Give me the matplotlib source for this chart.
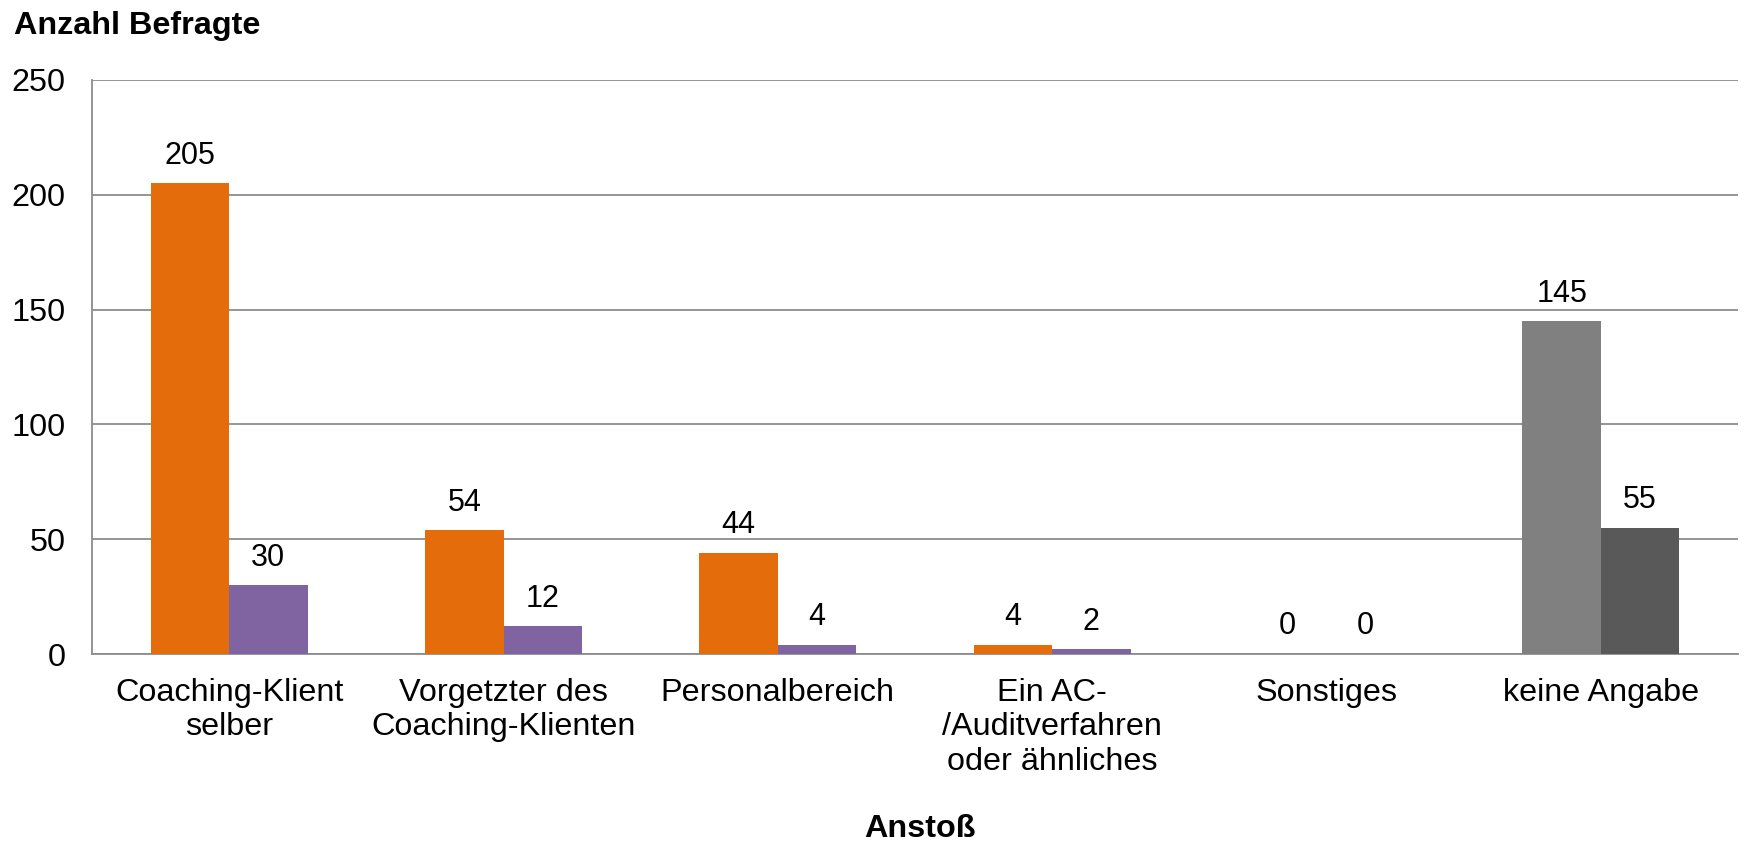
import numpy as np
import matplotlib.pyplot as plt

categories = ["Coaching-Klient\nselber", "Vorgetzter des\nCoaching-Klienten", "Personalbereich",
              "Ein AC-\n/Auditverfahren\noder ähnliches", "Sonstiges", "keine Angabe"]
series_a = [205, 54, 44, 4, 0, 145]
series_b = [30, 12, 4, 2, 0, 55]
colors_a = ["#E46C0A"] * 5 + ["#808080"]
colors_b = ["#8064A2"] * 5 + ["#595959"]

plt.rcParams['font.family'] = ['Liberation Sans', 'DejaVu Sans']

fig = plt.figure(figsize=(17.44, 8.41), dpi=100)
ax = fig.add_axes([92/1744, 1 - 654/841, (1738-92)/1744, (654-80)/841])

x = np.arange(len(categories))
w = 0.286
bars_a = ax.bar(x - w/2, series_a, w, color=colors_a, zorder=3)
bars_b = ax.bar(x + w/2, series_b, w, color=colors_b, zorder=3)

# value labels above each bar
for bars, vals in [(bars_a, series_a), (bars_b, series_b)]:
    for b, v in zip(bars, vals):
        ax.annotate(str(v), (b.get_x() + b.get_width()/2, v), xytext=(0, 9),
                    textcoords='offset points', ha='center', va='bottom', fontsize=22)

ax.set_xlim(-0.5, len(categories) - 0.5)
ax.set_ylim(0, 250)
ax.set_yticks(range(0, 251, 50))
ax.yaxis.grid(True, color='#8c8c8c', linewidth=1.3, zorder=0)
ax.set_xticks(x)
ax.set_xticklabels(categories, fontsize=23.3, linespacing=1.2)
ax.tick_params(axis='x', length=0, pad=17)
ax.tick_params(axis='y', length=0, pad=19, labelsize=23.3)
for s in ['top', 'right']:
    ax.spines[s].set_visible(False)
for s in ['left', 'bottom']:
    ax.spines[s].set_color('#8c8c8c')
    ax.spines[s].set_linewidth(1.3)

fig.text(14/1744, 1 - 26/841, "Anzahl Befragte", fontsize=23.3, fontweight='bold', va='center', ha='left')
fig.text(920/1744, 1 - 829/841, "Anstoß", fontsize=23.3, fontweight='bold', va='center', ha='center')

fig.savefig("out.png", dpi=100)
